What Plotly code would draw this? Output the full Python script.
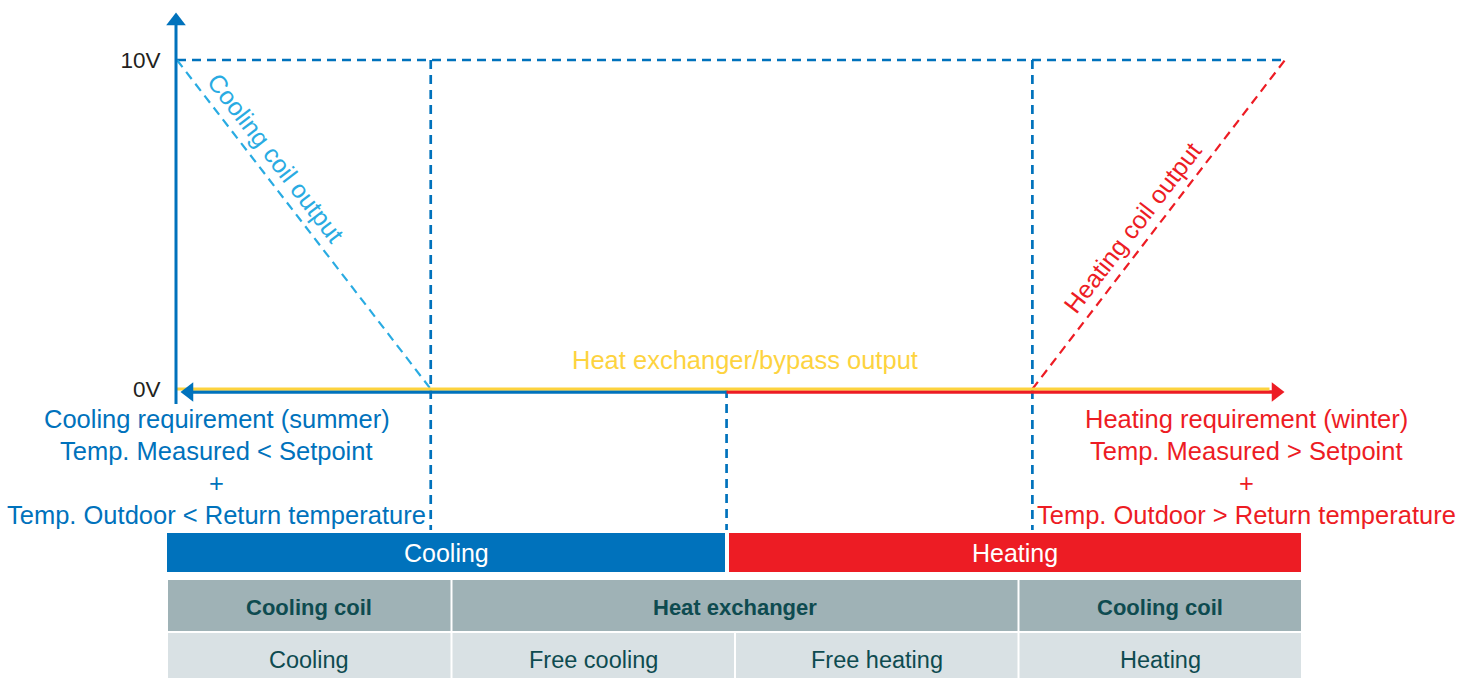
import plotly.graph_objects as go

# ---------------- data ----------------
voltage_ticks = [0, 10]
voltage_labels = ["0V", "10V"]
# demand axis positions (%): start, cooling-coil end, mode change, heating-coil start, end
zone_bounds = [0, 22.9, 49.6, 77.2, 100]
cooling_coil_x = [0, 22.9]
cooling_coil_v = [10, 0]
heating_coil_x = [77.2, 100]
heating_coil_v = [0, 10]
bypass_x = [0, 98.6]
bypass_v = [0, 0]
modes = ["Cooling", "Heating"]
devices = ["Cooling coil", "Heat exchanger", "Cooling coil"]
device_spans = [1, 2, 1]
functions = ["Cooling", "Free cooling", "Free heating", "Heating"]
cooling_req = ["Cooling requirement (summer)", "Temp. Measured < Setpoint", "+",
               "Temp. Outdoor < Return temperature"]
heating_req = ["Heating requirement (winter)", "Temp. Measured > Setpoint", "+",
               "Temp. Outdoor > Return temperature"]

# ---------------- style / layout ----------------
W, H = 1473, 678
X0_PX, X100_PX = 177, 1285
V0_PX, V10_PX = 389, 60
BLUE = "#0072bc"
LBLUE = "#29abe2"
RED = "#ed1c24"
YELLOW = "#fdd33f"
HEAD = "#9fb2b6"
BODY = "#d9e1e4"
TEAL = "#0e4b50"
FONT = "Liberation Sans"


def px2x(p):
    return (p - X0_PX) / (X100_PX - X0_PX) * 100


def py2v(p):
    return (V0_PX - p) / (V0_PX - V10_PX) * 10


def pxp(p):
    return p / W


def pyp(p):
    return 1 - p / H


def txt(x, y, text, size, color, xref="paper", yref="paper", angle=0):
    return dict(x=x, y=y, xref=xref, yref=yref, text=text, showarrow=False, textangle=angle,
                xanchor="center", yanchor="middle",
                font=dict(family=FONT, size=size, color=color))


fig = go.Figure()
dash_blue = dict(color=BLUE, width=2.7, dash="9px,6px")
bottom_v = py2v(530)

# top 10V dashed line
fig.add_trace(go.Scatter(x=[zone_bounds[0], zone_bounds[-1]], y=[voltage_ticks[1]] * 2,
                         mode="lines", line=dash_blue, hoverinfo="skip"))
# vertical dashed boundaries
fig.add_trace(go.Scatter(x=[zone_bounds[1], zone_bounds[1], None, zone_bounds[3], zone_bounds[3]],
                         y=[voltage_ticks[1], bottom_v, None, voltage_ticks[1], bottom_v],
                         mode="lines", line=dash_blue, hoverinfo="skip"))
fig.add_trace(go.Scatter(x=[zone_bounds[2], zone_bounds[2]], y=[voltage_ticks[0], bottom_v],
                         mode="lines", line=dash_blue, hoverinfo="skip"))
# coil outputs
fig.add_trace(go.Scatter(x=cooling_coil_x, y=cooling_coil_v, mode="lines",
                         line=dict(color=LBLUE, width=2.2, dash="9px,6px"), hoverinfo="skip"))
fig.add_trace(go.Scatter(x=heating_coil_x, y=heating_coil_v, mode="lines",
                         line=dict(color=RED, width=2.2, dash="9px,6px"), hoverinfo="skip"))
# horizontal axis (blue / red) just below the 0V line
axis_v = py2v(V0_PX + 3)
fig.add_trace(go.Scatter(x=[px2x(192), zone_bounds[2]], y=[axis_v, axis_v], mode="lines",
                         line=dict(color=BLUE, width=3.5), hoverinfo="skip"))
fig.add_trace(go.Scatter(x=[zone_bounds[2], px2x(1272)], y=[axis_v, axis_v], mode="lines",
                         line=dict(color=RED, width=3.5), hoverinfo="skip"))
# bypass output (yellow)
fig.add_trace(go.Scatter(x=bypass_x, y=bypass_v, mode="lines",
                         line=dict(color=YELLOW, width=3), hoverinfo="skip"))
# arrow heads
fig.add_trace(go.Scatter(x=[px2x(189)], y=[axis_v], mode="markers",
                         marker=dict(symbol="triangle-left", size=17, color=BLUE), hoverinfo="skip"))
fig.add_trace(go.Scatter(x=[px2x(1276)], y=[axis_v], mode="markers",
                         marker=dict(symbol="triangle-right", size=17, color=RED), hoverinfo="skip"))
# vertical axis
fig.add_trace(go.Scatter(x=[px2x(176), px2x(176)], y=[py2v(404), py2v(25)], mode="lines",
                         line=dict(color=BLUE, width=3), hoverinfo="skip"))
fig.add_trace(go.Scatter(x=[px2x(176)], y=[py2v(21)], mode="markers",
                         marker=dict(symbol="triangle-up", size=17, color=BLUE), hoverinfo="skip"))

ann = []
# rotated labels
ann.append(txt(px2x(276), py2v(158), "Cooling coil output", 25, LBLUE, "x", "y", 52.4))
ann.append(txt(px2x(1132), py2v(228), "Heating coil output", 25, RED, "x", "y", -52.4))
ann.append(txt(px2x(745), py2v(360), "Heat exchanger/bypass output", 25.5, YELLOW, "x", "y"))

# requirement texts
line_y = [419, 451, 483, 515]
for t, yy in zip(cooling_req, line_y):
    ann.append(txt(pxp(217), pyp(yy), t, 25.5, BLUE))
for t, yy in zip(heating_req, line_y):
    ann.append(txt(pxp(1246), pyp(yy), t, 25.5, RED))

shapes = []
# mode bars
bar_edges = [(167, 725), (729, 1301)]
bar_colors = [BLUE, RED]
for (a, b), c, t in zip(bar_edges, bar_colors, modes):
    shapes.append(dict(type="rect", xref="paper", yref="paper", x0=pxp(a), x1=pxp(b),
                       y0=pyp(572), y1=pyp(533), fillcolor=c, line=dict(width=0), layer="above"))
    ann.append(txt(pxp((a + b) / 2), pyp(553), t, 25, "white"))

# table
col_edges = [167, 451.5, 735, 1018.5, 1302]
gap = 1
k = 0
for t, span in zip(devices, device_spans):
    a, b = col_edges[k], col_edges[k + span]
    shapes.append(dict(type="rect", xref="paper", yref="paper", x0=pxp(a + gap), x1=pxp(b - gap),
                       y0=pyp(631), y1=pyp(580), fillcolor=HEAD, line=dict(width=0)))
    ann.append(txt(pxp((a + b) / 2), pyp(607), "<b>" + t + "</b>", 22, TEAL))
    k += span
for i, t in enumerate(functions):
    a, b = col_edges[i], col_edges[i + 1]
    shapes.append(dict(type="rect", xref="paper", yref="paper", x0=pxp(a + gap), x1=pxp(b - gap),
                       y0=pyp(680), y1=pyp(633), fillcolor=BODY, line=dict(width=0)))
    ann.append(txt(pxp((a + b) / 2), pyp(660), t, 23.5, TEAL))

fig.update_layout(
    width=W, height=H, margin=dict(l=0, r=0, t=0, b=0), autosize=False,
    paper_bgcolor="white", plot_bgcolor="white", showlegend=False,
    xaxis=dict(range=[px2x(0), px2x(W)], visible=False, fixedrange=True),
    yaxis=dict(range=[py2v(H), py2v(0)], anchor="free", position=pxp(176),
               tickvals=voltage_ticks, ticktext=voltage_labels, ticks="outside", ticklen=11,
               tickcolor="rgba(0,0,0,0)", showgrid=False, zeroline=False, showline=False,
               tickfont=dict(family=FONT, size=22.5, color="#231f20"), fixedrange=True),
    annotations=ann, shapes=shapes,
)
fig.write_html("out.html", config={"displayModeBar": False},
               post_script="document.body.style.margin='0';document.body.style.overflow='hidden';")
